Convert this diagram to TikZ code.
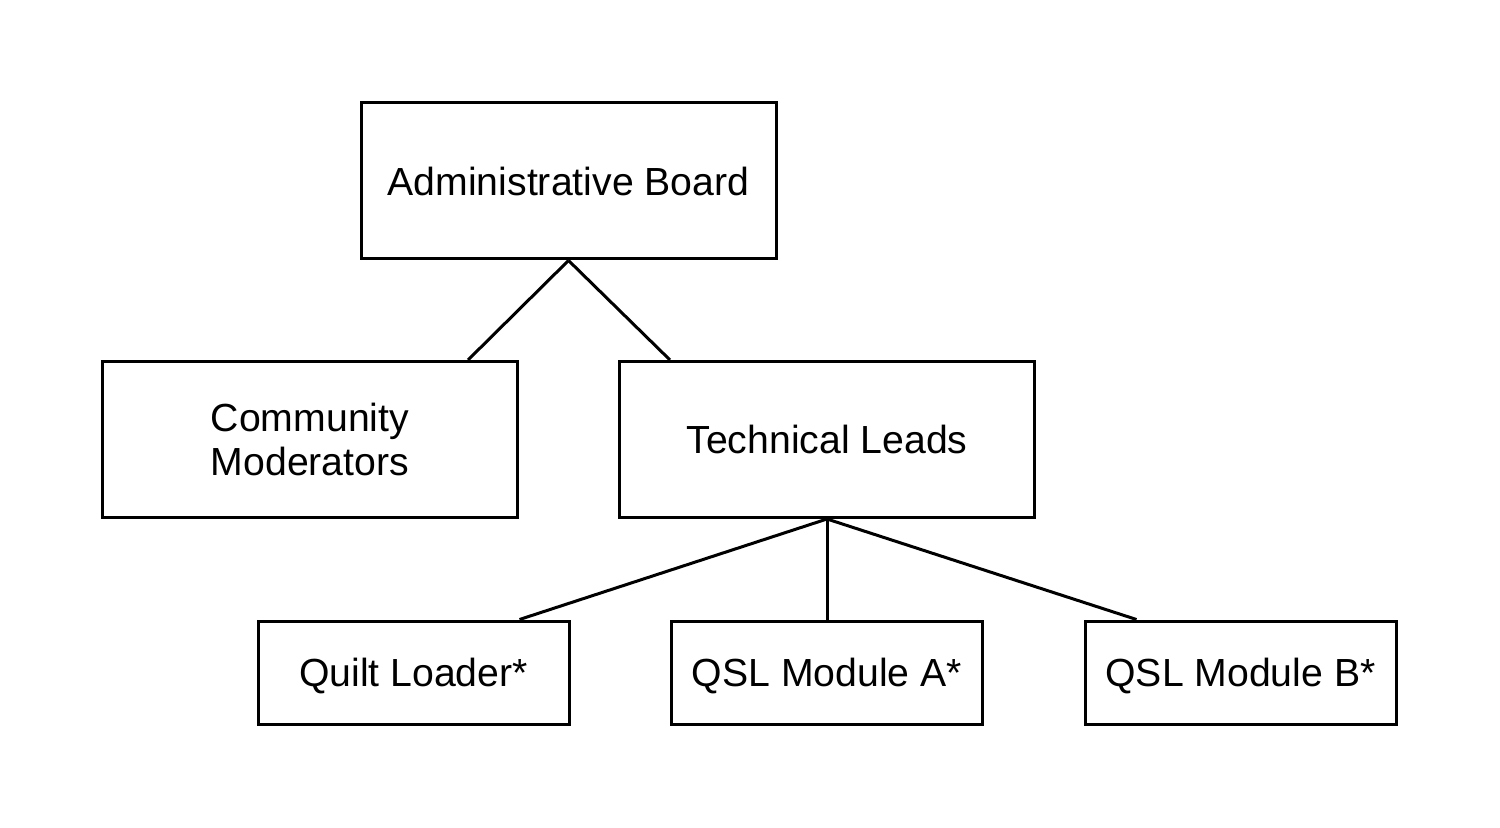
\documentclass[tikz,border=0pt]{standalone}
\usepackage{fontspec}
\setmainfont{Liberation Sans}
\begin{document}
\begin{tikzpicture}[x=0.5pt,y=-0.5pt,
  box/.style={draw=black,line width=1.5pt,fill=white,inner sep=0pt,align=center,
    font=\fontsize{19.6pt}{22pt}\selectfont},
  big/.style={box,minimum width=207.5pt,minimum height=78pt},
  small/.style={box,minimum width=155.5pt,minimum height=51.5pt,text height=14pt,text depth=0pt},
  link/.style={line width=1.5pt}]
\useasboundingbox[fill=white] (0,0) rectangle (1500,828);
\node[big] (ab) at (568.5,181) {Administrative Board};
\node[big] (cm) at (310,439.5) {Community\\Moderators};
\node[big] (tl) at (827,439.5) {Technical Leads};
\node[small] (ql) at (413.5,672.5) {Quilt Loader*};
\node[small] (qa) at (827,672.5) {QSL Module A*};
\node[small] (qb) at (1240.5,672.5) {QSL Module B*};
\draw[link] (ab.south) -- ([xshift=-25.5pt]cm.north east);
\draw[link] (ab.south) -- ([xshift=26pt]tl.north west);
\draw[link] (tl.south) -- ([xshift=-25.5pt]ql.north east);
\draw[link] (tl.south) -- (qa.north);
\draw[link] (tl.south) -- ([xshift=26.5pt]qb.north west);
\end{tikzpicture}
\end{document}
